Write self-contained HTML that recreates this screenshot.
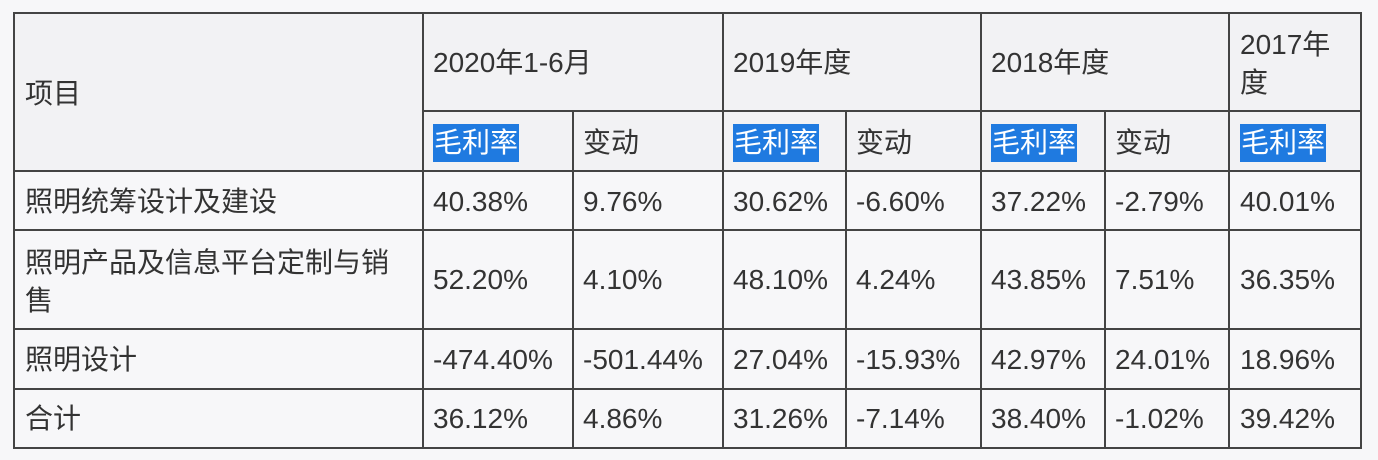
<!DOCTYPE html>
<html><head><meta charset="utf-8"><style>
body{margin:0;width:1378px;height:460px;background:#f7f7f9;position:relative;overflow:hidden;font-family:"Liberation Sans","Noto Sans CJK SC",sans-serif;color:#333;font-size:28px}
.h{position:absolute;background:#444}
.t{position:absolute;white-space:nowrap;line-height:38px}
.hl{background:#1f7ae0;color:#fff;padding:3px 1px 4px}
</style></head><body>
<div style="position:absolute;left:14px;top:13px;width:1347px;height:158px;background:#f2f2f4"></div>
<div class="h" style="left:13px;top:12px;width:1349px;height:2px"></div>
<div class="h" style="left:423px;top:110px;width:939px;height:2px"></div>
<div class="h" style="left:13px;top:170px;width:1349px;height:2px"></div>
<div class="h" style="left:13px;top:229px;width:1349px;height:2px"></div>
<div class="h" style="left:13px;top:328px;width:1349px;height:2px"></div>
<div class="h" style="left:13px;top:388px;width:1349px;height:2px"></div>
<div class="h" style="left:13px;top:447px;width:1349px;height:2px"></div>
<div class="h" style="left:13px;top:12px;width:2px;height:437px"></div>
<div class="h" style="left:422px;top:12px;width:2px;height:437px"></div>
<div class="h" style="left:572px;top:110px;width:2px;height:339px"></div>
<div class="h" style="left:722px;top:12px;width:2px;height:437px"></div>
<div class="h" style="left:845px;top:110px;width:2px;height:339px"></div>
<div class="h" style="left:980px;top:12px;width:2px;height:437px"></div>
<div class="h" style="left:1104px;top:110px;width:2px;height:339px"></div>
<div class="h" style="left:1228px;top:12px;width:2px;height:437px"></div>
<div class="h" style="left:1360px;top:12px;width:2px;height:437px"></div>

<div class="t" style="left:25px;top:75px">项目</div>
<div class="t" style="left:433px;top:44px">2020年1-6月</div>
<div class="t" style="left:733px;top:44px">2019年度</div>
<div class="t" style="left:991px;top:44px">2018年度</div>
<div class="t" style="left:1240px;top:26px">2017年</div>
<div class="t" style="left:1240px;top:64px">度</div>

<div class="t" style="left:433px;top:124px"><span class="hl">毛利率</span></div>
<div class="t" style="left:583px;top:124px">变动</div>
<div class="t" style="left:733px;top:124px"><span class="hl">毛利率</span></div>
<div class="t" style="left:856px;top:124px">变动</div>
<div class="t" style="left:991px;top:124px"><span class="hl">毛利率</span></div>
<div class="t" style="left:1115px;top:124px">变动</div>
<div class="t" style="left:1240px;top:124px"><span class="hl">毛利率</span></div>

<div class="t" style="left:25px;top:183px">照明统筹设计及建设</div>
<div class="t" style="left:433px;top:183px">40.38%</div>
<div class="t" style="left:583px;top:183px">9.76%</div>
<div class="t" style="left:733px;top:183px">30.62%</div>
<div class="t" style="left:856px;top:183px">-6.60%</div>
<div class="t" style="left:991px;top:183px">37.22%</div>
<div class="t" style="left:1115px;top:183px">-2.79%</div>
<div class="t" style="left:1240px;top:183px">40.01%</div>

<div class="t" style="left:25px;top:244px">照明产品及信息平台定制与销</div>
<div class="t" style="left:25px;top:282px">售</div>
<div class="t" style="left:433px;top:261px">52.20%</div>
<div class="t" style="left:583px;top:261px">4.10%</div>
<div class="t" style="left:733px;top:261px">48.10%</div>
<div class="t" style="left:856px;top:261px">4.24%</div>
<div class="t" style="left:991px;top:261px">43.85%</div>
<div class="t" style="left:1115px;top:261px">7.51%</div>
<div class="t" style="left:1240px;top:261px">36.35%</div>

<div class="t" style="left:25px;top:341px">照明设计</div>
<div class="t" style="left:433px;top:341px">-474.40%</div>
<div class="t" style="left:583px;top:341px">-501.44%</div>
<div class="t" style="left:733px;top:341px">27.04%</div>
<div class="t" style="left:856px;top:341px">-15.93%</div>
<div class="t" style="left:991px;top:341px">42.97%</div>
<div class="t" style="left:1115px;top:341px">24.01%</div>
<div class="t" style="left:1240px;top:341px">18.96%</div>

<div class="t" style="left:25px;top:400px">合计</div>
<div class="t" style="left:433px;top:400px">36.12%</div>
<div class="t" style="left:583px;top:400px">4.86%</div>
<div class="t" style="left:733px;top:400px">31.26%</div>
<div class="t" style="left:856px;top:400px">-7.14%</div>
<div class="t" style="left:991px;top:400px">38.40%</div>
<div class="t" style="left:1115px;top:400px">-1.02%</div>
<div class="t" style="left:1240px;top:400px">39.42%</div>
</body></html>
